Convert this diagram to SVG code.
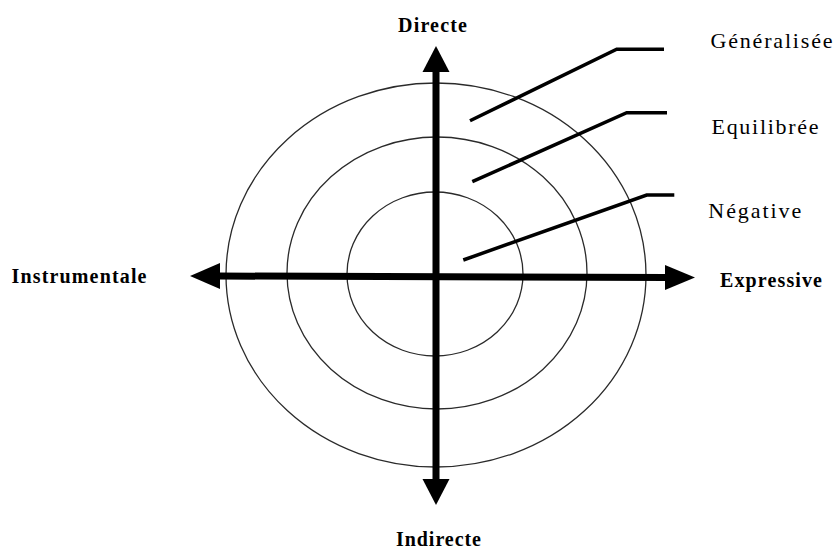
<svg xmlns="http://www.w3.org/2000/svg" width="838" height="550" viewBox="0 0 838 550">
<style>
.ring{fill:none;stroke:#2a2a2a;stroke-width:1.3}
.axis{stroke:#000;stroke-width:7;fill:none}
.head{fill:#000}
.leader{fill:none;stroke:#000;stroke-width:3.5;stroke-linejoin:miter}
.lbl{font-family:"Liberation Serif","Times New Roman",serif;font-size:22px;fill:#000}
.ax{font-family:"Liberation Serif","Times New Roman",serif;font-size:20px;font-weight:bold;fill:#000}
</style>
<rect width="838" height="550" fill="#fff"/>
<g id="rings">
<ellipse id="ring-outer" class="ring" cx="436" cy="275" rx="210" ry="192"/>
<ellipse id="ring-middle" class="ring" cx="437" cy="273" rx="150" ry="136"/>
<ellipse id="ring-inner" class="ring" cx="435" cy="274" rx="88" ry="82"/>
</g>
<g id="connectors">
<line class="axis" x1="436" y1="68" x2="436" y2="482"/>
<polygon class="head" points="436,46 422.5,72 449.5,72"/>
<polygon class="head" points="436,505 422.5,479 449.5,479"/>
<line class="axis" x1="218" y1="276" x2="667" y2="277.5"/>
<polygon class="head" points="190,276 220,263 220,289"/>
<polygon class="head" points="695,277.5 665,265 665,290"/>
<polyline class="leader" points="470,120.7 616.7,49.3 664,49.3"/>
<polyline class="leader" points="472.3,181.7 626.7,112.7 667,112.7"/>
<polyline class="leader" points="463.3,260 646.7,195 674.3,195"/>
</g>
<g id="directe"><text class="ax" x="398" y="31.5" textLength="69">Directe</text></g>
<g id="indirecte"><text class="ax" x="396" y="546" textLength="85">Indirecte</text></g>
<g id="instrumentale"><text class="ax" x="11.5" y="283" textLength="135">Instrumentale</text></g>
<g id="expressive"><text class="ax" x="720" y="286.5" textLength="102">Expressive</text></g>
<g id="generalisee"><text class="lbl" x="710.5" y="48.3" textLength="122">Généralisée</text></g>
<g id="equilibree"><text class="lbl" x="711.5" y="134.3" textLength="107">Equilibrée</text></g>
<g id="negative"><text class="lbl" x="708.3" y="218.3" textLength="93">Négative</text></g>
</svg>
